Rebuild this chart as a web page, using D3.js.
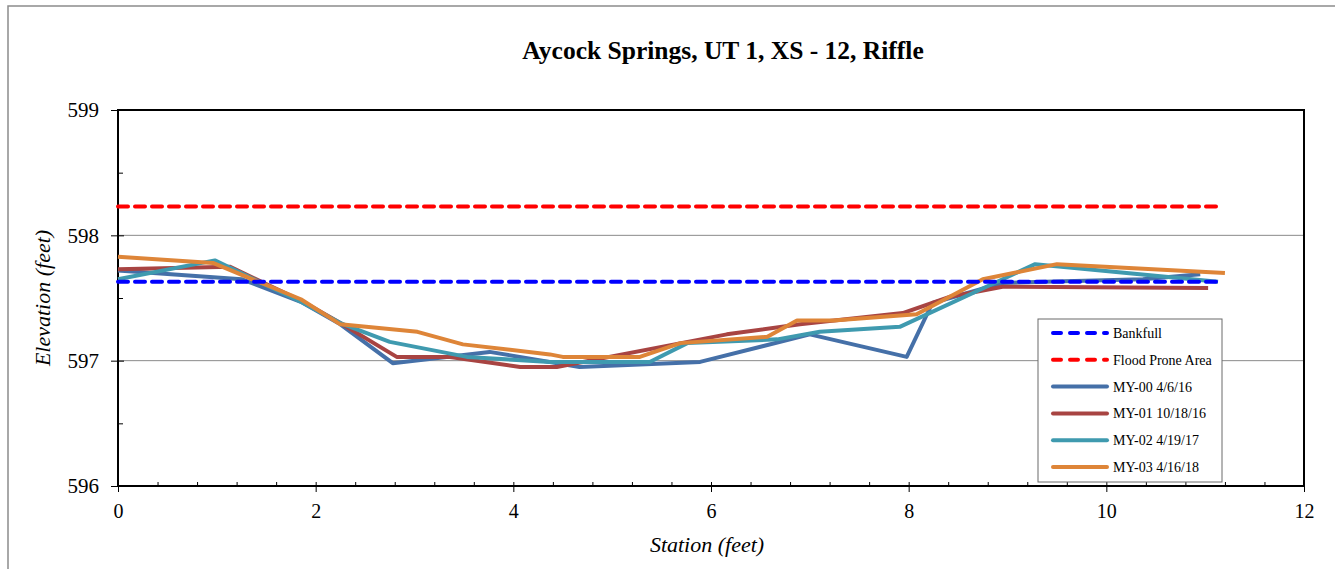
<!DOCTYPE html>
<html><head><meta charset="utf-8">
<script src="https://cdn.jsdelivr.net/npm/d3@7"></script>
<style>
html,body{margin:0;padding:0;background:#fff;}
svg{display:block;}
</style></head>
<body>
<svg id="chart" width="1335" height="569"></svg>
<script>
const title = "Aycock Springs, UT 1, XS - 12, Riffle";
const xTitle = "Station (feet)";
const yTitle = "Elevation (feet)";
const xTicks = [0, 2, 4, 6, 8, 10, 12];
const yTicks = [596, 597, 598, 599];

const bankfull = 597.63;
const floodProne = 598.23;
const refLineX = [0, 11.17];

const my00 = [[0,597.72],[1.25,597.65],[1.85,597.47],[2.25,597.29],[2.78,596.98],[3.76,597.07],[4.67,596.95],[5.89,596.99],[7.0,597.21],[7.98,597.03],[8.24,597.46],[8.95,597.62],[10.37,597.65],[10.95,597.69]];
const my01 = [[0,597.73],[1.13,597.75],[1.85,597.48],[2.25,597.30],[2.82,597.03],[3.36,597.03],[4.07,596.95],[4.44,596.95],[6.16,597.21],[6.9,597.29],[7.94,597.38],[8.42,597.51],[8.95,597.59],[11.03,597.58]];
const my02 = [[0,597.65],[0.98,597.80],[1.85,597.47],[2.25,597.30],[2.75,597.15],[3.53,597.03],[4.37,596.99],[5.38,596.99],[5.76,597.14],[6.67,597.17],[7.1,597.23],[7.91,597.27],[9.28,597.77],[11.13,597.63]];
const my03 = [[0,597.83],[0.96,597.78],[1.85,597.49],[2.25,597.29],[3.03,597.23],[3.49,597.13],[4.37,597.05],[4.5,597.03],[5.28,597.03],[5.69,597.14],[6.57,597.19],[6.87,597.32],[7.24,597.32],[8.08,597.37],[8.75,597.65],[9.5,597.77],[11.2,597.70]];

const seriesNames = ["Bankfull","Flood Prone Area","MY-00 4/6/16","MY-01 10/18/16","MY-02 4/19/17","MY-03 4/16/18"];
const seriesColors = ["#0000FF","#FF0000","#4570A8","#A84442","#3F9AAF","#DE8538"];

const FONT = "Liberation Serif";
const svg = d3.select("#chart");
const L = 118, R = 1304, T = 110, B = 486;
const x = d3.scaleLinear().domain([0,12]).range([L,R]);
const y = d3.scaleLinear().domain([596,599]).range([B,T]);

// outer frame
svg.append("rect").attr("x",8).attr("y",6).attr("width",1400).attr("height",600)
  .attr("fill","#fff").attr("stroke","#8c8c8c").attr("stroke-width",1.5);

// gridlines
svg.append("g").selectAll("line").data([597,598]).join("line")
  .attr("x1",L).attr("x2",R).attr("y1",d=>y(d)).attr("y2",d=>y(d))
  .attr("stroke","#8a8a8a").attr("stroke-width",1);

// axes
const yAxisMinor = d3.axisRight(y).tickValues(d3.range(596.5,599,1)).tickSize(5).tickFormat("");
svg.append("g").attr("transform",`translate(${L},0)`).call(yAxisMinor).call(g=>g.select(".domain").remove())
  .selectAll("line").attr("stroke","#000");
const yAxis = d3.axisLeft(y).tickValues(yTicks).tickSizeInner(7).tickSizeOuter(0).tickPadding(12).tickFormat(d3.format("d"));
const ya = svg.append("g").attr("transform",`translate(${L},0)`).call(yAxis).attr("font-family",FONT);
ya.select(".domain").remove();
ya.selectAll(".tick line").attr("stroke","#000").attr("x2",-7).attr("x1",6);
ya.selectAll("text").attr("font-size",21).attr("font-family",FONT).attr("fill","#000").attr("dy","0.32em");

const xMinor = d3.range(0.4,12,0.4).filter(v=>Math.abs(v/2-Math.round(v/2))>0.01);
const xAxisMinor = d3.axisTop(x).tickValues(xMinor).tickSize(4).tickFormat("");
svg.append("g").attr("transform",`translate(0,${B})`).call(xAxisMinor).call(g=>g.select(".domain").remove())
  .selectAll("line").attr("stroke","#000");
const xAxis = d3.axisBottom(x).tickValues(xTicks).tickSizeInner(6).tickSizeOuter(0).tickPadding(12).tickFormat(d3.format("d"));
const xa = svg.append("g").attr("transform",`translate(0,${B})`).call(xAxis).attr("font-family",FONT);
xa.select(".domain").remove();
xa.selectAll(".tick line").attr("stroke","#000").attr("y1",-4).attr("y2",6);
xa.selectAll("text").attr("font-size",20).attr("font-family",FONT).attr("fill","#000").attr("dy","0.71em");

// plot border
svg.append("rect").attr("x",L).attr("y",T).attr("width",R-L).attr("height",B-T)
  .attr("fill","none").attr("stroke","#000").attr("stroke-width",2);

// reference lines
const line = d3.line().x(d=>x(d[0])).y(d=>y(d[1]));
svg.append("path").datum(refLineX.map(v=>[v,floodProne])).attr("d",line)
  .attr("fill","none").attr("stroke",seriesColors[1]).attr("stroke-width",4)
  .attr("stroke-dasharray","10,7").attr("stroke-linecap","round");

// series
const data = [my00,my01,my02,my03];
data.forEach((s,i)=>{
  svg.append("path").datum(s).attr("d",line).attr("fill","none")
    .attr("stroke",seriesColors[i+2]).attr("stroke-width",4).attr("stroke-linejoin","round");
});
svg.append("path").datum(refLineX.map(v=>[v,bankfull])).attr("d",line)
  .attr("fill","none").attr("stroke",seriesColors[0]).attr("stroke-width",4)
  .attr("stroke-dasharray","10,7").attr("stroke-linecap","round");

// titles
svg.append("text").attr("x",723).attr("y",59).attr("text-anchor","middle").attr("font-family",FONT)
  .attr("font-size",25.5).attr("font-weight","bold").text(title);
svg.append("text").attr("x",707).attr("y",552).attr("text-anchor","middle").attr("font-family",FONT)
  .attr("font-size",22).attr("font-style","italic").text(xTitle);
svg.append("text").attr("transform",`translate(50,${298}) rotate(-90)`).attr("text-anchor","middle").attr("font-family",FONT)
  .attr("font-size",22).attr("font-style","italic").text(yTitle);

// legend
const lg = svg.append("g");
lg.append("rect").attr("x",1038).attr("y",319).attr("width",184).attr("height",163)
  .attr("fill","#fff").attr("stroke","#6a6a6a").attr("stroke-width",1);
seriesNames.forEach((n,i)=>{
  const yy = 333 + i*26.8;
  const ln = lg.append("line").attr("x1",1053).attr("x2",1107).attr("y1",yy).attr("y2",yy)
    .attr("stroke",seriesColors[i]).attr("stroke-width",4).attr("stroke-linecap","round");
  if(i<2) ln.attr("stroke-dasharray","8,9");
  lg.append("text").attr("x",1113).attr("y",yy+5).attr("font-family",FONT).attr("font-size",14).text(n);
});
</script>
</body></html>
